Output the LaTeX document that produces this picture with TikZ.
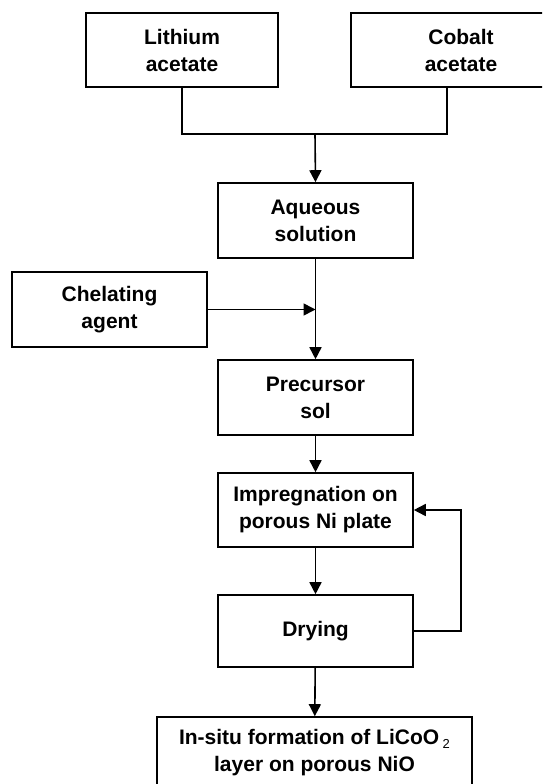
\documentclass[tikz,border=0pt]{standalone}
\usepackage{fontspec}
\setmainfont{Liberation Sans}
\usepackage{tikz}
\usetikzlibrary{arrows.meta, positioning, calc}

\begin{document}
\begin{tikzpicture}[x=1pt, y=-1pt, line width=1.6pt, >={Triangle[length=12pt, width=12pt]},
    stepbox/.style={rectangle, draw, minimum width=195pt, minimum height=75pt, align=center, inner sep=0pt,
      font=\fontsize{21}{27}\selectfont\bfseries}]
    \clip (0,0) rectangle (542,784);

    \node[stepbox, minimum width=192pt, minimum height=74pt] (lith) at (182,50) {Lithium\\acetate};
    \node[stepbox, minimum width=220pt, minimum height=74pt] (cobalt) at (461,50) {Cobalt\\acetate};
    \node[stepbox] (aqueous) at (315.5,220.5) {Aqueous\\solution};
    \node[stepbox] (chelate) at (109.5,309.5) {Chelating\\agent};
    \node[stepbox] (precursor) at (315.5,397.5) {Precursor\\sol};
    \node[stepbox, minimum height=74pt] (impreg) at (315.5,510) {Impregnation on\\porous Ni plate};
    \node[stepbox, minimum height=72pt] (drying) at (315.5,631) {Drying};
    \node[stepbox, minimum width=315pt, minimum height=72pt] (final) at (314.5,753)
      {In-situ formation of LiCoO\,\raisebox{-4pt}{\fontsize{13}{13}\selectfont\mdseries 2}\\layer on porous NiO};

    \coordinate (join) at (315,134);

    % the two acetates meet
    \draw (lith.south) |- (join) -| ([xshift=-14pt]cobalt.south);
    \draw[->] (join) -- (aqueous.north);
    \draw[->] (aqueous) -- (precursor);
    \draw[->] (chelate.east) -- (chelate.east -| aqueous.south);
    \draw[->] (precursor) -- (impreg);
    \draw[->] (impreg) -- (drying);
    \draw[->] (drying.east) -- ++(47,0) |- (impreg.east);
    \draw[->] (drying) -- (final);
\end{tikzpicture}
\end{document}
